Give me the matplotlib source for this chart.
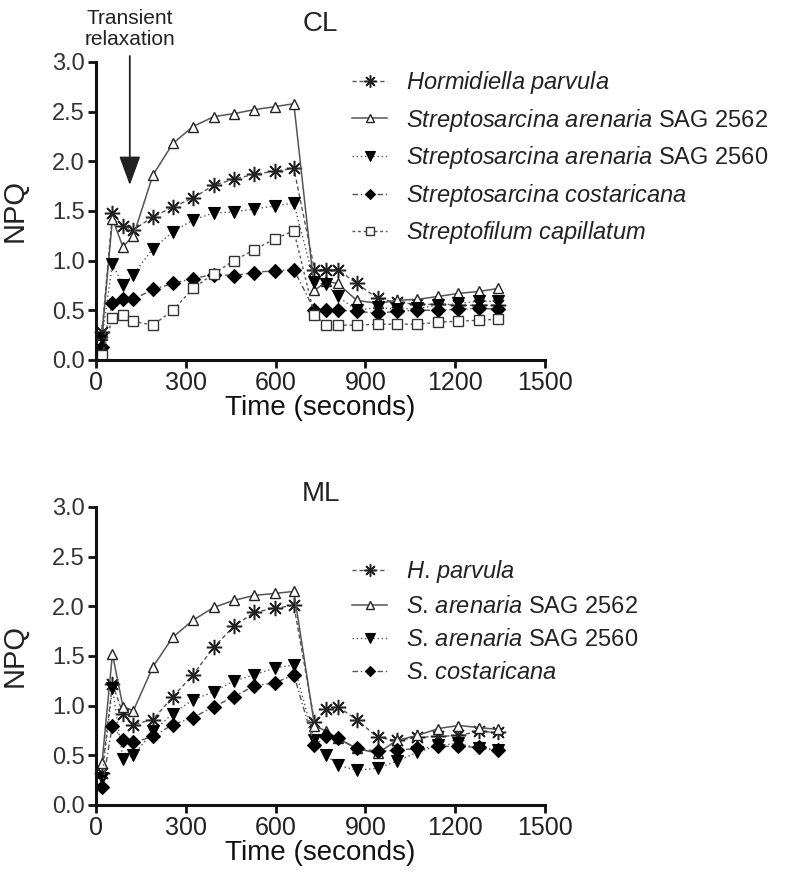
"""
NPQ induction / relaxation kinetics under CL and ML (two stacked panels).
"""
import matplotlib
matplotlib.use("Agg")
import matplotlib.pyplot as plt
from matplotlib import font_manager

# time points (s)
TIME = [20, 55, 90, 125, 190, 257, 324, 394, 461, 529, 598, 661,
        730, 770, 808, 871, 941, 1004, 1074, 1144, 1211, 1280, 1344]

# CL panel
HP_CL = [0.28, 1.48, 1.35, 1.31, 1.44, 1.54, 1.63, 1.76, 1.82, 1.87, 1.90, 1.93,
         0.91, 0.91, 0.91, 0.77, 0.62, 0.58, 0.56, 0.56, 0.55, 0.55, 0.55]
SA62_CL = [0.25, 1.42, 1.14, 1.25, 1.86, 2.18, 2.35, 2.45, 2.48, 2.52, 2.55, 2.58,
           0.70, 0.79, 0.77, 0.60, 0.57, 0.60, 0.61, 0.64, 0.67, 0.69, 0.72]
SA60_CL = [0.22, 0.97, 0.75, 0.86, 1.12, 1.29, 1.41, 1.48, 1.49, 1.52, 1.55, 1.58,
           0.78, 0.76, 0.64, 0.50, 0.53, 0.51, 0.52, 0.55, 0.57, 0.59, 0.59]
SC_CL = [0.13, 0.57, 0.61, 0.61, 0.71, 0.77, 0.82, 0.86, 0.85, 0.88, 0.90, 0.91,
         0.50, 0.50, 0.50, 0.49, 0.47, 0.49, 0.50, 0.50, 0.51, 0.52, 0.51]
SCAP_CL = [0.05, 0.42, 0.45, 0.39, 0.35, 0.50, 0.72, 0.87, 1.00, 1.11, 1.22, 1.30,
           0.45, 0.35, 0.35, 0.35, 0.36, 0.36, 0.36, 0.38, 0.39, 0.40, 0.41]

# ML panel
HP_ML = [0.32, 1.22, 0.92, 0.81, 0.86, 1.09, 1.31, 1.59, 1.80, 1.94, 1.98, 2.01,
         0.84, 0.97, 0.99, 0.86, 0.68, 0.65, 0.68, 0.69, 0.70, 0.74, 0.73]
SA62_ML = [0.42, 1.52, 0.99, 0.95, 1.39, 1.69, 1.86, 1.99, 2.06, 2.11, 2.13, 2.15,
           0.80, 0.74, 0.67, 0.57, 0.52, 0.65, 0.70, 0.77, 0.80, 0.78, 0.76]
SA60_ML = [0.27, 1.18, 0.46, 0.50, 0.74, 0.92, 1.06, 1.14, 1.25, 1.31, 1.38, 1.41,
           0.65, 0.50, 0.40, 0.35, 0.37, 0.44, 0.53, 0.60, 0.62, 0.57, 0.55]
SC_ML = [0.18, 0.80, 0.65, 0.63, 0.69, 0.81, 0.88, 0.99, 1.09, 1.20, 1.23, 1.31,
         0.60, 0.69, 0.67, 0.57, 0.54, 0.55, 0.57, 0.59, 0.59, 0.58, 0.55]

LABELS_CL = [r"$\mathit{Hormidiella\ parvula}$",
             r"$\mathit{Streptosarcina\ arenaria}$ SAG 2562",
             r"$\mathit{Streptosarcina\ arenaria}$ SAG 2560",
             r"$\mathit{Streptosarcina\ costaricana}$",
             r"$\mathit{Streptofilum\ capillatum}$"]
LABELS_ML = [r"$\mathit{H}$. $\mathit{parvula}$",
             r"$\mathit{S}$. $\mathit{arenaria}$ SAG 2562",
             r"$\mathit{S}$. $\mathit{arenaria}$ SAG 2560",
             r"$\mathit{S}$. $\mathit{costaricana}$"]

XTICKS = [0, 300, 600, 900, 1200, 1500]
YTICKS = [0.0, 0.5, 1.0, 1.5, 2.0, 2.5, 3.0]

names = {f.name for f in font_manager.fontManager.ttflist}
NARROW = "Liberation Sans Narrow" if "Liberation Sans Narrow" in names else "Liberation Sans"

plt.rcParams["font.family"] = ["Liberation Sans", "DejaVu Sans"]
plt.rcParams["mathtext.fontset"] = "custom"
plt.rcParams["mathtext.rm"] = "Liberation Sans"
plt.rcParams["mathtext.it"] = "Liberation Sans:italic"
plt.rcParams["text.color"] = "#222222"

LINE = "#555555"
STYLES = [
    dict(marker=(8, 2, 0), ms=11, mew=1.1, mec="#222222", mfc="none",
         ls=(0, (3, 2)), lw=1.0, color=LINE),
    dict(marker="^", ms=7.5, mew=1.0, mec="#222222", mfc="white",
         ls="-", lw=1.1, color=LINE),
    dict(marker="v", ms=8.5, mew=0.8, mec="black", mfc="black",
         ls=(0, (1, 2)), lw=1.0, color=LINE),
    dict(marker="D", ms=7, mew=0.8, mec="black", mfc="black",
         ls=(0, (4, 2, 1, 2)), lw=1.0, color=LINE),
    dict(marker="s", ms=7.5, mew=1.0, mec="#333333", mfc="white",
         ls=(0, (2, 2)), lw=1.0, color=LINE),
]


def style_axes(ax):
    ax.set_xlim(0, 1500)
    ax.set_ylim(0, 3.0)
    ax.set_xticks(XTICKS)
    ax.set_yticks(YTICKS)
    ax.set_yticklabels([f"{v:.1f}" for v in YTICKS], fontsize=17, color="#333333")
    ax.set_xticklabels([str(v) for v in XTICKS], fontsize=18, family=NARROW,
                       color="#222222")
    for s in ["top", "right"]:
        ax.spines[s].set_visible(False)
    for s in ["left", "bottom"]:
        ax.spines[s].set_linewidth(2.2)
        ax.spines[s].set_color("#111111")
    ax.tick_params(direction="out", length=6, width=2.0, color="#111111", pad=2)
    ax.set_ylabel("NPQ", fontsize=21, color="#222222")
    ax.yaxis.set_label_coords(-0.151, 0.5)
    ax.set_xlabel("Time (seconds)", fontsize=20, color="#111111", labelpad=0)
    ax.patch.set_visible(False)


fig = plt.figure(figsize=(7.88, 8.89), dpi=100)
ax1 = fig.add_axes([0.1218, 0.5951, 0.5698, 0.3352])
ax2 = fig.add_axes([0.1218, 0.0945, 0.5698, 0.3352])

for y, lab, st in zip([HP_CL, SA62_CL, SA60_CL, SC_CL, SCAP_CL], LABELS_CL, STYLES):
    ax1.plot(TIME, y, label=lab, clip_on=False, **st)
for y, lab, st in zip([HP_ML, SA62_ML, SA60_ML, SC_ML], LABELS_ML, STYLES):
    ax2.plot(TIME, y, label=lab, clip_on=False, **st)

for ax in (ax1, ax2):
    style_axes(ax)

ax1.set_title("CL", fontsize=20, pad=22)
ax2.set_title("ML", fontsize=20, pad=4)

ax1.annotate("Transient\nrelaxation", xy=(113, 1.76), xytext=(113, 3.13),
             ha="center", va="bottom", fontsize=15, family=NARROW,
             linespacing=1.15, annotation_clip=False,
             arrowprops=dict(arrowstyle="-|>,head_length=0.6,head_width=0.22",
                             mutation_scale=30, color="#222222", lw=1.3,
                             shrinkA=3, shrinkB=0))

fig.legend(*ax1.get_legend_handles_labels(), loc="upper left",
           bbox_to_anchor=(352 / 788, 1 - 69 / 889), frameon=False,
           fontsize=17, handlelength=1.5, handletextpad=0.8, labelspacing=0.45,
           borderpad=0, borderaxespad=0, markerscale=0.8)
fig.legend(*ax2.get_legend_handles_labels(), loc="upper left",
           bbox_to_anchor=(352 / 788, 1 - 558 / 889), frameon=False,
           fontsize=17, handlelength=1.5, handletextpad=0.8, labelspacing=0.47,
           borderpad=0, borderaxespad=0, markerscale=0.8)

fig.savefig("out.png", dpi=100)
print("Wrote out.png")
